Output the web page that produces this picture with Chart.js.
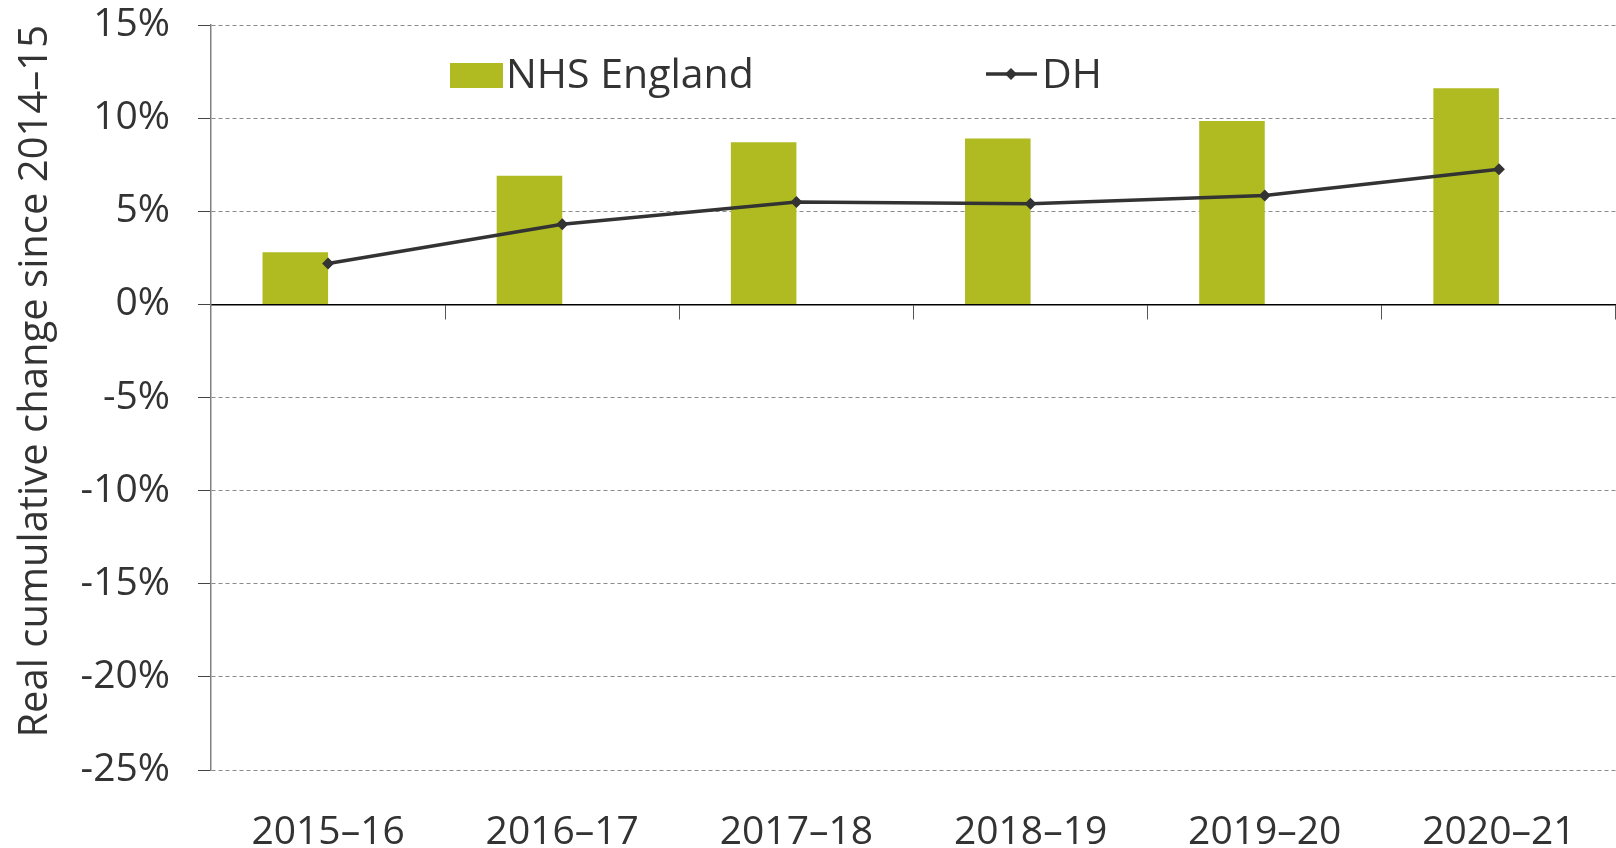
<!DOCTYPE html>
<html>
<head>
<meta charset="utf-8">
<script src="https://cdn.jsdelivr.net/npm/chart.js@4.4.0/dist/chart.umd.min.js"></script>
<style>
  html, body { margin: 0; padding: 0; background: #fff; }
  #wrap { width: 1616px; height: 848px; position: relative; }
</style>
</head>
<body>
<div id="wrap"><canvas id="grafico"></canvas></div>
<script>
// Dados
var anos = ["2015–16", "2016–17", "2017–18", "2018–19", "2019–20", "2020–21"];
var nhsEngland = [2.8, 6.9, 8.7, 8.9, 9.85, 11.6];
var dh = [2.2, 4.3, 5.5, 5.4, 5.85, 7.25];
var nomeNhs = "NHS England";
var nomeDh = "DH";
var tituloY = "Real cumulative change since 2014–15";
var yMin = -25;
var yMax = 15;
var yPasso = 5;

// Cores e fonte
var corBarra = "#afbb21";
var corLinha = "#333333";
var corTexto = "#333333";
var fonte = "'Open Sans', 'Noto Sans', sans-serif";

// Legenda desenhada dentro da área do gráfico
var legendaPlugin = {
	id: "legenda",
	afterDraw: function (chart) {
		var ctx = chart.ctx;
		var y = 76;
		ctx.save();
		ctx.font = "41px " + fonte;
		ctx.textBaseline = "middle";
		ctx.textAlign = "left";

		// NHS England
		ctx.fillStyle = corBarra;
		ctx.fillRect(450, 63, 53, 25);
		ctx.fillStyle = corTexto;
		ctx.fillText(nomeNhs, 506, y);

		// DH
		ctx.strokeStyle = corLinha;
		ctx.lineWidth = 3.5;
		ctx.beginPath();
		ctx.moveTo(986, 74);
		ctx.lineTo(1037, 74);
		ctx.stroke();
		ctx.fillStyle = corLinha;
		ctx.beginPath();
		ctx.moveTo(1011, 68);
		ctx.lineTo(1017, 74);
		ctx.lineTo(1011, 80);
		ctx.lineTo(1005, 74);
		ctx.closePath();
		ctx.fill();
		ctx.fillStyle = corTexto;
		ctx.fillText(nomeDh, 1042, y);
		ctx.restore();
	},
};

const dados = {
	labels: anos,
	datasets: [
		{
			type: "line",
			label: nomeDh,
			data: dh,
			borderColor: corLinha,
			backgroundColor: corLinha,
			borderWidth: 3.5,
			pointStyle: "rectRot",
			pointRadius: 6,
			pointHoverRadius: 6,
			pointBorderWidth: 0,
			tension: 0,
			order: 0,
		},
		{
			type: "bar",
			label: nomeNhs,
			data: nhsEngland,
			backgroundColor: corBarra,
			categoryPercentage: 0.56,
			barPercentage: 1,
			order: 1,
		},
		{
			// série vazia: deixa a barra à esquerda do centro, como no original
			type: "bar",
			label: "",
			data: anos.map(function () { return null; }),
			backgroundColor: "rgba(0,0,0,0)",
			categoryPercentage: 0.56,
			barPercentage: 1,
			order: 2,
		},
	],
};

const config = {
	type: "bar",
	data: dados,
	plugins: [legendaPlugin],
	options: {
		responsive: true,
		maintainAspectRatio: false,
		animation: false,
		layout: { padding: 0, autoPadding: false },
		plugins: {
			legend: { display: false },
			tooltip: { enabled: false },
		},
		scales: {
			x: {
				offset: true,
				grid: { display: false },
				border: { display: false },
				ticks: {
					color: corTexto,
					font: { family: fonte, size: 39 },
					padding: 31,
					maxRotation: 0,
				},
				afterFit: function (scale) {
					scale.height = 78;
					scale.paddingLeft = 0;
					scale.paddingRight = 0;
				},
			},
			x2: {
				type: "category",
				position: { y: 0 },
				offset: true,
				grid: {
					offset: true,
					drawOnChartArea: false,
					drawTicks: true,
					tickLength: 14,
					color: "#555555",
					lineWidth: 1,
				},
				ticks: { display: false },
				border: { display: true, color: "#000000", width: 1.5 },
				z: 1,
				afterFit: function (scale) {
					scale.height = 0;
					scale.paddingLeft = 0;
					scale.paddingRight = 0;
				},
			},
			y: {
				min: yMin,
				max: yMax,
				ticks: {
					stepSize: yPasso,
					color: corTexto,
					font: { family: fonte, size: 39 },
					padding: 28,
					callback: function (v) { return v + "%"; },
				},
				grid: {
					color: "#8a8a8a",
					lineWidth: 1,
					drawTicks: true,
					tickLength: 13,
					tickColor: "#444444",
				},
				border: { display: true, color: "#808080", width: 1.5, dash: [4, 3] },
				title: {
					display: true,
					text: tituloY,
					color: corTexto,
					align: "end",
					font: { family: fonte, size: 40 },
					padding: { top: 12, bottom: 0 },
				},
				afterFit: function (scale) {
					scale.width = 211;
					scale.paddingTop = 25;
					scale.paddingBottom = 0;
				},
			},
		},
	},
};

var grafico = new Chart(document.getElementById("grafico"), config);
</script>
</body>
</html>
